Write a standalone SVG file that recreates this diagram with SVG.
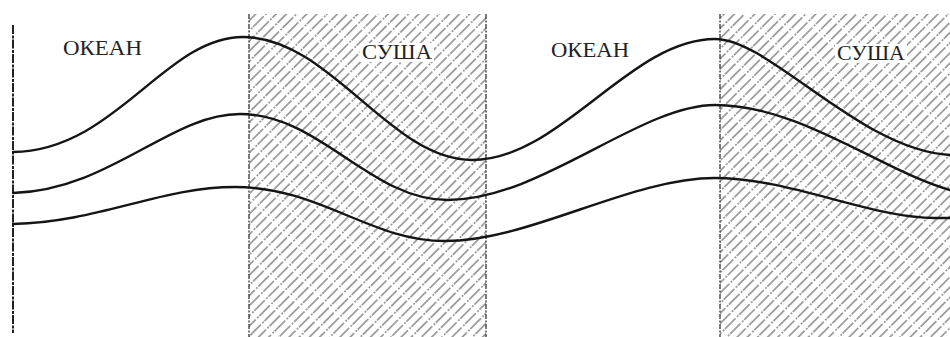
<svg xmlns="http://www.w3.org/2000/svg" width="950" height="337" viewBox="0 0 950 337">
  <defs>
    <pattern id="hatch" patternUnits="userSpaceOnUse" width="20" height="7.2" patternTransform="rotate(-45)">
      <line x1="0" y1="3.6" x2="20" y2="3.6" stroke="#333" stroke-width="0.9" stroke-dasharray="15 2 2 1"/>
    </pattern>
  </defs>
  <style>
    .land { fill: url(#hatch); }
    .border { stroke: #333; stroke-width: 1.3; stroke-dasharray: 5 1.5 2 1.5; fill: none; }
    .axis { stroke: #222; stroke-width: 2; fill: none; stroke-dasharray: 9 1.5 3 1; }
    .curve { stroke: #151515; stroke-width: 2.4; fill: none; stroke-linecap: round; }
    .label { font-family: "Liberation Serif", "Times New Roman", serif; font-size: 21px; fill: #222; }
    .clear { fill: #fff; }
  </style>
  <rect width="950" height="337" fill="#fff"/>

  <g id="land-1">
    <rect class="land" x="249" y="14" width="237" height="323"/>
    <line class="border" x1="249" y1="14" x2="249" y2="337"/>
    <line class="border" x1="486" y1="14" x2="486" y2="337"/>
  </g>
  <g id="land-2">
    <rect class="land" x="720" y="14" width="230" height="323"/>
    <line class="border" x1="720" y1="14" x2="720" y2="337"/>
  </g>

  <g id="axis">
    <line class="axis" x1="13" y1="25" x2="13" y2="333"/>
  </g>

  <g id="curves">
    <path class="curve" d="M13,152 C115,151 165,37 243,37 C330,37 390,160 472,160 C560,160 630,39 715,39 C770,39 860,150 950,155"/>
    <path class="curve" d="M13,193 C110,190 170,114 240,114 C320,114 370,200 448,200 C540,200 640,105 715,105 C800,105 880,170 950,190"/>
    <path class="curve" d="M13,224 C100,222 160,187 235,187 C320,187 370,241 445,241 C530,241 630,178 715,178 C790,178 870,218 935,218 L950,218"/>
  </g>

  <g id="label-ocean-1">
    <text class="label" x="63" y="55" textLength="79" lengthAdjust="spacingAndGlyphs">ОКЕАН</text>
  </g>
  <g id="label-land-1">
    <rect class="clear" x="360" y="43" width="74" height="19"/>
    <text class="label" x="362" y="59" textLength="70" lengthAdjust="spacingAndGlyphs">СУША</text>
  </g>
  <g id="label-ocean-2">
    <text class="label" x="551" y="57" textLength="78" lengthAdjust="spacingAndGlyphs">ОКЕАН</text>
  </g>
  <g id="label-land-2">
    <rect class="clear" x="835" y="44" width="72" height="19"/>
    <text class="label" x="837" y="60" textLength="68" lengthAdjust="spacingAndGlyphs">СУША</text>
  </g>
</svg>
